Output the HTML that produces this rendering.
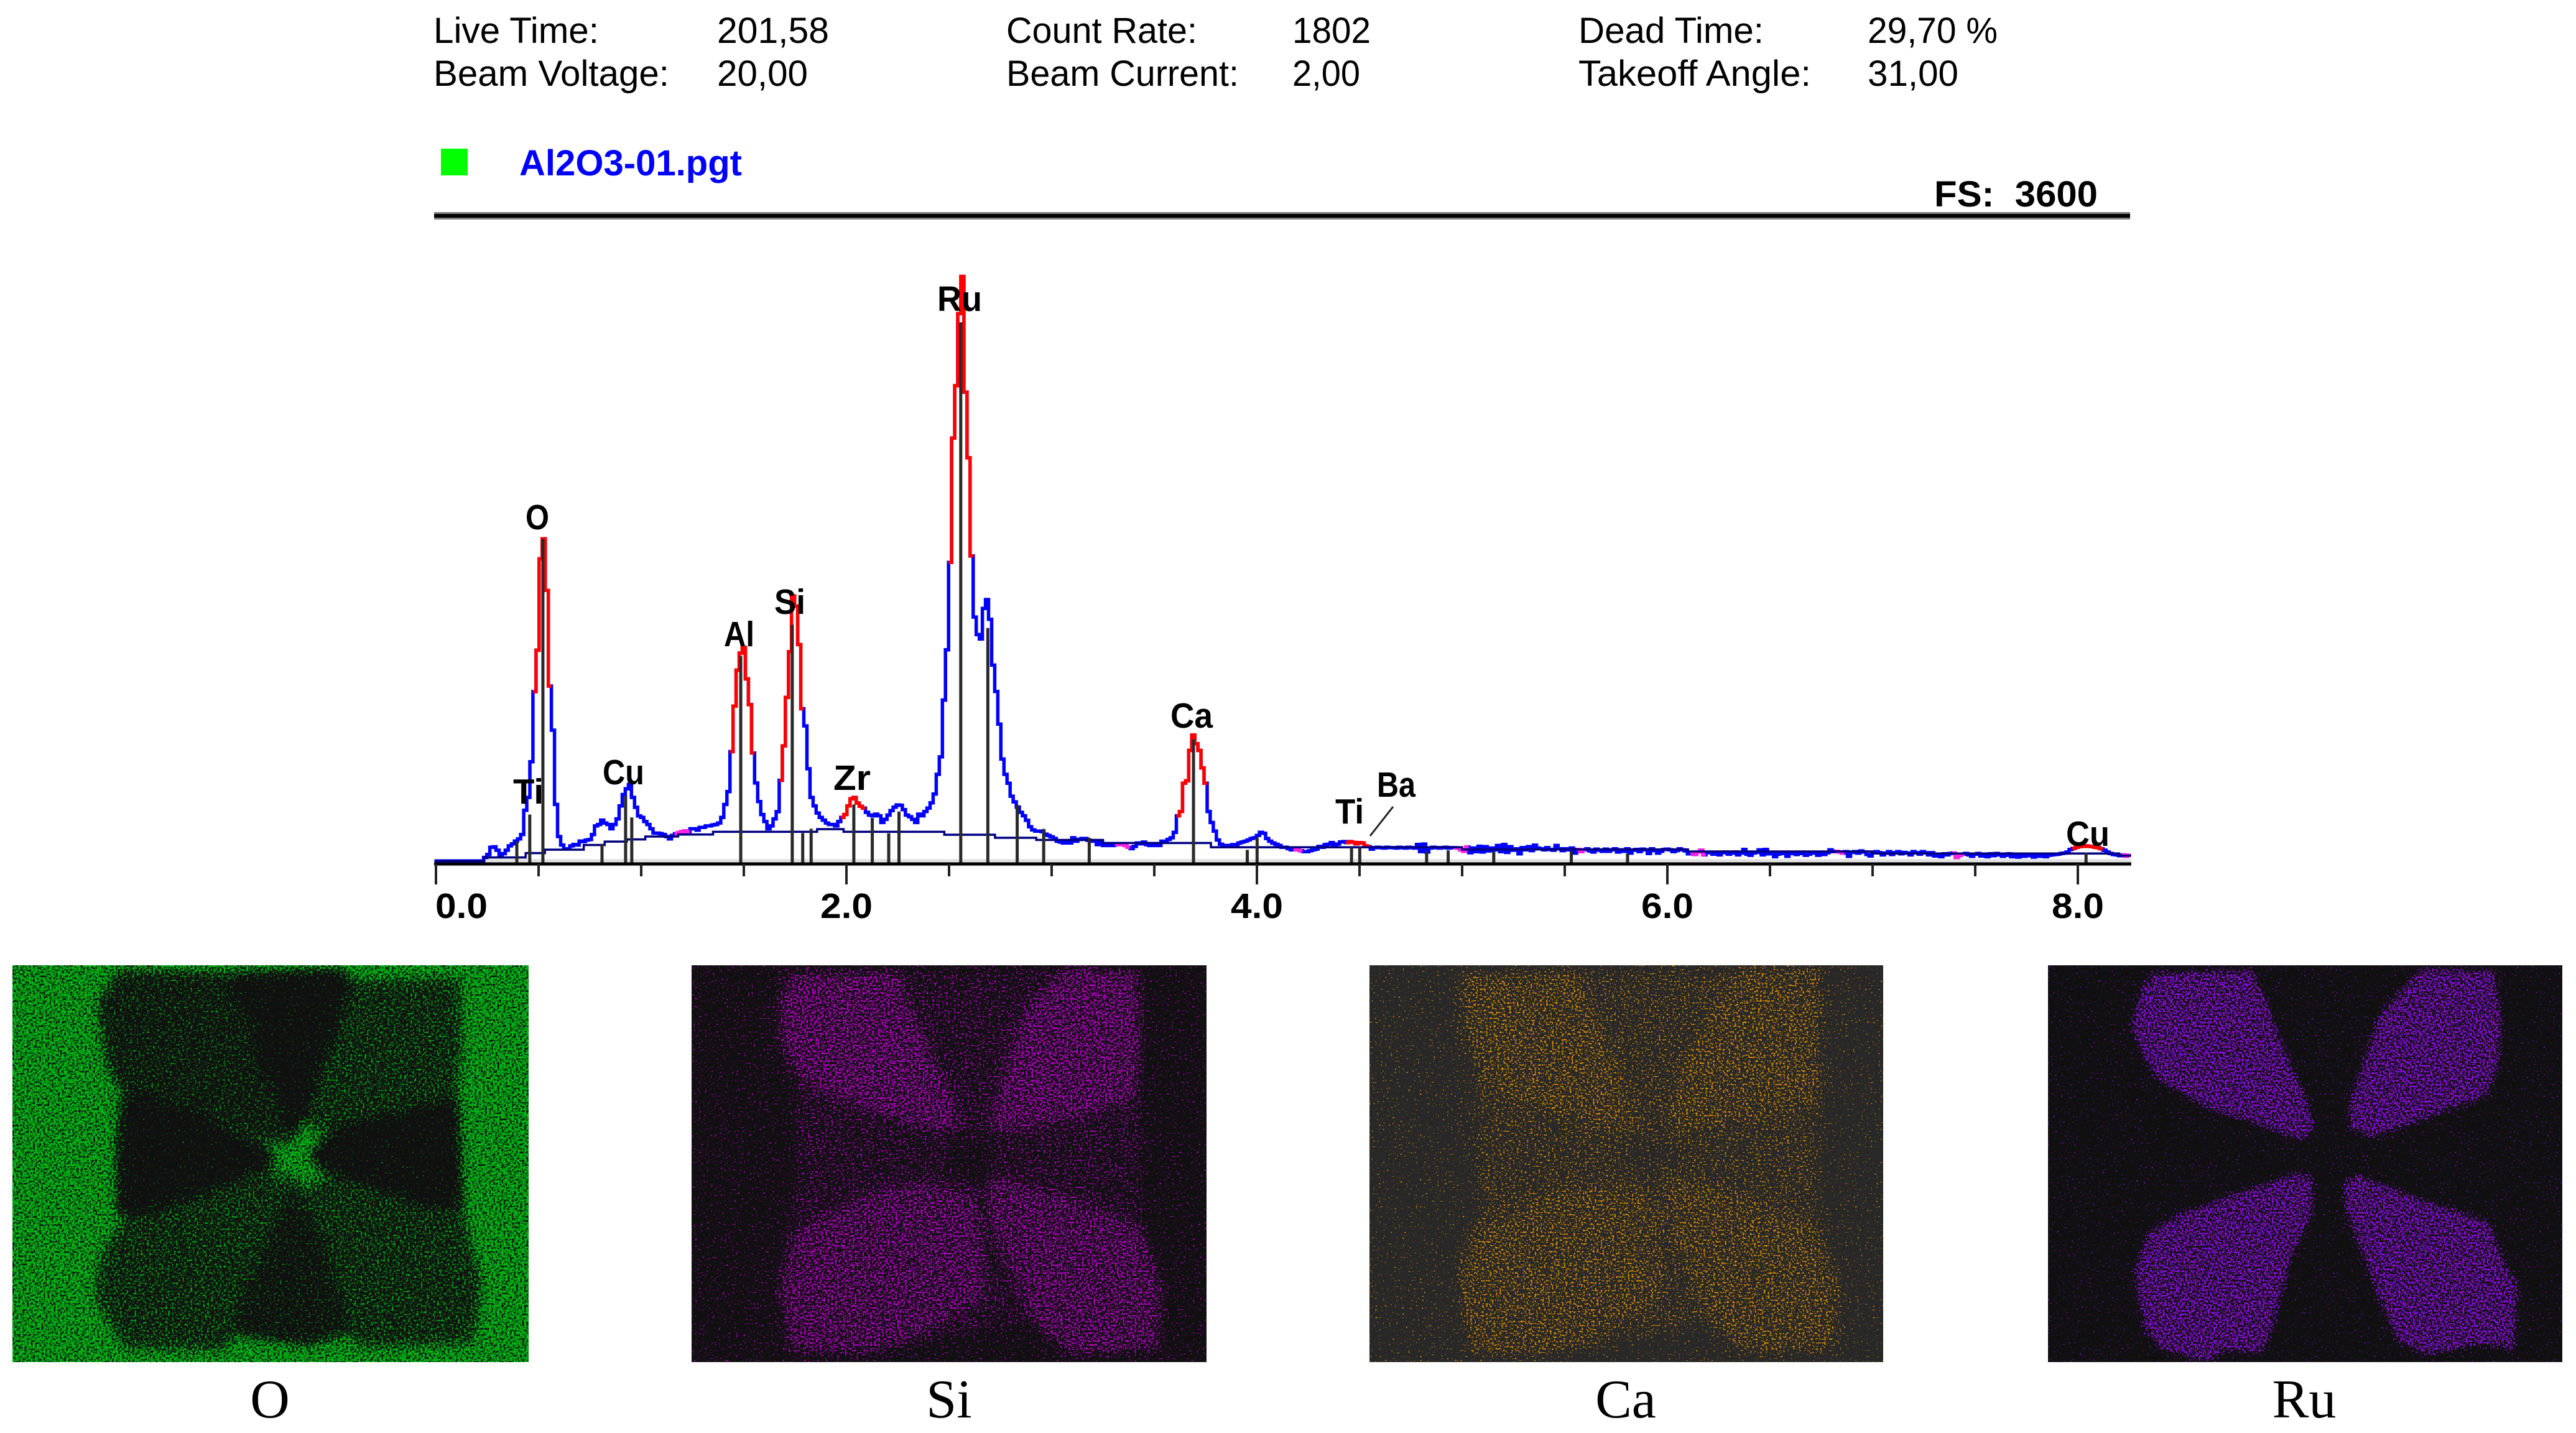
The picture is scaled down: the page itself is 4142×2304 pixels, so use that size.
<!DOCTYPE html>
<html lang="en">
<head>
<meta charset="utf-8">
<title>EDS spectrum and element maps</title>
<style>
html,body{margin:0;padding:0;background:#fff;width:4142px;height:2304px;overflow:hidden}
svg{display:block}
.hd{font-family:"Liberation Sans",sans-serif;font-size:58px;fill:#000}
.pk{font-family:"Liberation Sans",sans-serif;font-size:57px;font-weight:700;fill:#000}
.ax{font-family:"Liberation Sans",sans-serif;font-size:57px;font-weight:700;fill:#000}
.cap{font-family:"Liberation Serif",serif;font-size:88px;fill:#000;text-anchor:middle}
</style>
</head>
<body>
<svg id="root" xmlns="http://www.w3.org/2000/svg" width="4142" height="2304" viewBox="0 0 4142 2304">
<defs>
<clipPath id="clip-o"><rect width="830" height="638"/></clipPath>
<clipPath id="clip-si"><rect width="828" height="638"/></clipPath>
<clipPath id="clip-ca"><rect width="826" height="638"/></clipPath>
<clipPath id="clip-ru"><rect width="827" height="638"/></clipPath>
<filter id="noise-o" filterUnits="userSpaceOnUse" x="-40" y="-40" width="910" height="718" color-interpolation-filters="sRGB">
<feColorMatrix in="SourceGraphic" type="matrix" values="0 0 0 0 0 0 0 0 0 0 0 0 0 0 0 1 0 0 0 0" result="d"/>
<feGaussianBlur in="d" stdDeviation="9" result="db"/>
<feTurbulence type="fractalNoise" baseFrequency=".3" numOctaves="2" seed="4" result="t"/>
<feColorMatrix in="t" type="matrix" values="0 0 0 0 0 0 0 0 0 0 0 0 0 0 0 1 0 0 0 0" result="n"/>
<feComposite in="n" in2="db" operator="arithmetic" k1="0" k2="1" k3=".5" k4="-.72" result="s"/>
<feComponentTransfer in="s" result="m"><feFuncA type="linear" slope="4" intercept="0"/></feComponentTransfer>
<feFlood flood-color="#00b814" result="c"/>
<feComposite in="c" in2="m" operator="in"/>
</filter>
<filter id="noise-si" filterUnits="userSpaceOnUse" x="-40" y="-40" width="910" height="718" color-interpolation-filters="sRGB">
<feColorMatrix in="SourceGraphic" type="matrix" values="0 0 0 0 0 0 0 0 0 0 0 0 0 0 0 1 0 0 0 0" result="d"/>
<feGaussianBlur in="d" stdDeviation="8" result="db"/>
<feTurbulence type="fractalNoise" baseFrequency=".32" numOctaves="2" seed="11" result="t"/>
<feColorMatrix in="t" type="matrix" values="0 0 0 0 0 0 0 0 0 0 0 0 0 0 0 1 0 0 0 0" result="n"/>
<feComposite in="n" in2="db" operator="arithmetic" k1="0" k2="1" k3=".5" k4="-.72" result="s"/>
<feComponentTransfer in="s" result="m"><feFuncA type="linear" slope="10" intercept="0"/></feComponentTransfer>
<feFlood flood-color="#ac00bc" result="c"/>
<feComposite in="c" in2="m" operator="in"/>
</filter>
<filter id="noise-ca" filterUnits="userSpaceOnUse" x="-40" y="-40" width="910" height="718" color-interpolation-filters="sRGB">
<feColorMatrix in="SourceGraphic" type="matrix" values="0 0 0 0 0 0 0 0 0 0 0 0 0 0 0 1 0 0 0 0" result="d"/>
<feGaussianBlur in="d" stdDeviation="8" result="db"/>
<feTurbulence type="fractalNoise" baseFrequency=".32" numOctaves="2" seed="23" result="t"/>
<feColorMatrix in="t" type="matrix" values="0 0 0 0 0 0 0 0 0 0 0 0 0 0 0 1 0 0 0 0" result="n"/>
<feComposite in="n" in2="db" operator="arithmetic" k1="0" k2="1" k3=".5" k4="-.72" result="s"/>
<feComponentTransfer in="s" result="m"><feFuncA type="linear" slope="14" intercept="0"/></feComponentTransfer>
<feFlood flood-color="#d88a00" result="c"/>
<feComposite in="c" in2="m" operator="in"/>
</filter>
<filter id="noise-ru" filterUnits="userSpaceOnUse" x="-40" y="-40" width="910" height="718" color-interpolation-filters="sRGB">
<feColorMatrix in="SourceGraphic" type="matrix" values="0 0 0 0 0 0 0 0 0 0 0 0 0 0 0 1 0 0 0 0" result="d"/>
<feGaussianBlur in="d" stdDeviation="5" result="db"/>
<feTurbulence type="fractalNoise" baseFrequency=".33" numOctaves="2" seed="37" result="t"/>
<feColorMatrix in="t" type="matrix" values="0 0 0 0 0 0 0 0 0 0 0 0 0 0 0 1 0 0 0 0" result="n"/>
<feComposite in="n" in2="db" operator="arithmetic" k1="0" k2="1" k3=".5" k4="-.72" result="s"/>
<feComponentTransfer in="s" result="m"><feFuncA type="linear" slope="8" intercept="0"/></feComponentTransfer>
<feFlood flood-color="#8a0cdc" result="c"/>
<feComposite in="c" in2="m" operator="in"/>
</filter>
</defs>

<g class="hd">
<text x="697" y="69" textLength="266" lengthAdjust="spacingAndGlyphs">Live Time:</text>
<text x="1153" y="69" textLength="180" lengthAdjust="spacingAndGlyphs">201,58</text>
<text x="1618" y="69" textLength="307" lengthAdjust="spacingAndGlyphs">Count Rate:</text>
<text x="2078" y="69" textLength="126" lengthAdjust="spacingAndGlyphs">1802</text>
<text x="2538" y="69" textLength="298" lengthAdjust="spacingAndGlyphs">Dead Time:</text>
<text x="3003" y="69" textLength="209" lengthAdjust="spacingAndGlyphs">29,70 %</text>
<text x="697" y="138" textLength="379" lengthAdjust="spacingAndGlyphs">Beam Voltage:</text>
<text x="1153" y="138" textLength="146" lengthAdjust="spacingAndGlyphs">20,00</text>
<text x="1618" y="138" textLength="374" lengthAdjust="spacingAndGlyphs">Beam Current:</text>
<text x="2078" y="138" textLength="109" lengthAdjust="spacingAndGlyphs">2,00</text>
<text x="2538" y="138" textLength="374" lengthAdjust="spacingAndGlyphs">Takeoff Angle:</text>
<text x="3003" y="138" textLength="146" lengthAdjust="spacingAndGlyphs">31,00</text>
</g>

<rect x="709" y="239" width="43" height="43" fill="#00ff00"/>
<text x="835" y="282" font-family="'Liberation Sans',sans-serif" font-size="58" font-weight="700" fill="#0000ff" textLength="358" lengthAdjust="spacingAndGlyphs">Al2O3-01.pgt</text>
<text x="3110" y="332" font-family="'Liberation Sans',sans-serif" font-size="58" font-weight="700" fill="#000" xml:space="preserve" textLength="263" lengthAdjust="spacingAndGlyphs">FS:  3600</text>
<rect x="698" y="341" width="2727" height="12" fill="#808080"/>
<rect x="698" y="344" width="2727" height="6" fill="#000"/>

<g id="chart"></g>

<g class="pk">
<text x="845" y="851" textLength="38" lengthAdjust="spacingAndGlyphs">O</text>
<text x="825" y="1292" textLength="49" lengthAdjust="spacingAndGlyphs">Ti</text>
<text x="969" y="1261" textLength="67" lengthAdjust="spacingAndGlyphs">Cu</text>
<text x="1164" y="1039" textLength="49" lengthAdjust="spacingAndGlyphs">Al</text>
<text x="1245" y="987" textLength="50" lengthAdjust="spacingAndGlyphs">Si</text>
<text x="1340" y="1270" textLength="60" lengthAdjust="spacingAndGlyphs">Zr</text>
<text x="1507" y="500" textLength="72" lengthAdjust="spacingAndGlyphs">Ru</text>
<text x="1882" y="1170" textLength="68" lengthAdjust="spacingAndGlyphs">Ca</text>
<text x="2147" y="1324" textLength="46" lengthAdjust="spacingAndGlyphs">Ti</text>
<text x="2214" y="1281" textLength="62" lengthAdjust="spacingAndGlyphs">Ba</text>
<text x="3322" y="1360" textLength="70" lengthAdjust="spacingAndGlyphs">Cu</text>
</g>
<line x1="2240" y1="1297" x2="2203" y2="1344" stroke="#222" stroke-width="3"/>

<g transform="translate(20,1552)">
<rect width="830" height="638" fill="#101010"/>
<g clip-path="url(#clip-o)"><g filter="url(#noise-o)">
<rect x="-40" y="-40" width="910" height="718" fill="rgb(205,205,205)"/>
<g transform="scale(.5294,.4098)">
<polygon fill="rgb(112,112,112)" points="320,25 650,30 1000,25 1030,60 1360,50 1365,330 1350,520 1365,950 1425,1250 1400,1480 1060,1500 1020,1450 900,1490 680,1450 640,1510 340,1500 250,1300 270,1130 340,1000 320,970 335,500 290,400 260,150"/>
<polygon fill="rgb(85,85,85)" points="320,25 650,30 720,180 760,400 800,480 850,680 600,610 410,510 335,500 290,400 260,150"/>
<polygon fill="rgb(30,30,30)" points="680,40 1000,20 1020,90 990,220 950,330 920,450 890,590 850,680 800,480 760,400 720,180 660,90"/>
<polygon fill="rgb(30,30,30)" points="335,520 410,510 600,610 790,750 780,780 600,880 480,930 370,980 320,960 320,700"/>
<polygon fill="rgb(30,30,30)" points="1350,520 1365,950 1250,940 1080,860 910,780 905,740 1000,630 1150,590"/>
<polygon fill="rgb(65,65,65)" points="850,880 890,960 950,1100 980,1250 1010,1350 1010,1430 900,1490 700,1450 680,1400 720,1250 770,1100 820,950"/>
<polygon fill="rgb(205,205,205)" points="885,585 900,640 960,650 905,750 960,830 885,880 850,820 790,840 800,770 770,700 850,690"/>
</g>
</g></g>
</g>

<g transform="translate(1112,1552)">
<rect width="828" height="638" fill="#101010"/>
<g clip-path="url(#clip-si)"><g filter="url(#noise-si)">
<rect x="-40" y="-40" width="910" height="718" fill="rgb(30,30,30)"/>
<g transform="scale(.5294,.4098)">
<polygon fill="rgb(68,68,68)" points="265,20 1370,20 1370,1000 1430,1250 1420,1510 1150,1530 1030,1400 540,1530 300,1520 260,1250 300,1020 320,500 265,300"/>
<polygon fill="rgb(118,118,118)" points="320,25 630,20 660,150 750,400 800,540 820,640 720,650 580,590 340,470 270,320 260,130"/>
<polygon fill="rgb(118,118,118)" points="1130,5 1350,20 1370,300 1350,520 1200,590 920,660 905,600 950,400 1000,220 1060,100"/>
<polygon fill="rgb(112,112,112)" points="700,850 860,900 880,1000 900,1300 700,1450 540,1530 300,1520 260,1250 300,1060 400,980 560,880"/>
<polygon fill="rgb(112,112,112)" points="900,830 1100,880 1370,1030 1430,1250 1420,1510 1150,1530 1050,1430 1000,1300 900,1000"/>
<polygon fill="rgb(40,40,40)" points="770,680 910,670 920,780 870,870 790,800"/>
</g>
</g></g>
</g>

<g transform="translate(2202,1552)">
<rect width="826" height="638" fill="#282828"/>
<g clip-path="url(#clip-ca)"><g filter="url(#noise-ca)">
<rect x="-40" y="-40" width="910" height="718" fill="rgb(8,8,8)"/>
<g transform="scale(.5294,.4098)">
<polygon fill="rgb(46,46,46)" points="265,30 1370,10 1380,400 1360,1000 1430,1250 1420,1510 1150,1530 1030,1400 540,1530 300,1530 260,1200 320,1000 320,500 260,200"/>
<polygon fill="rgb(72,72,72)" points="265,30 630,20 760,400 820,640 720,650 580,590 340,470"/>
<polygon fill="rgb(72,72,72)" points="1130,5 1370,10 1370,520 1200,590 920,660 905,600 950,400 1060,100"/>
<polygon fill="rgb(70,70,70)" points="700,850 860,900 880,1000 900,1300 700,1450 540,1530 300,1520 260,1250 300,1060 400,980 560,880"/>
<polygon fill="rgb(70,70,70)" points="900,830 1100,880 1370,1030 1430,1250 1420,1510 1150,1530 1050,1430 1000,1300 900,1000"/>
<polygon fill="rgb(20,20,20)" points="790,700 900,680 910,770 870,820 800,790"/>
</g>
</g></g>
</g>

<g transform="translate(3293,1552)">
<rect width="827" height="638" fill="#101010"/>
<g clip-path="url(#clip-ru)"><g filter="url(#noise-ru)">
<rect x="-40" y="-40" width="910" height="718" fill="rgb(18,18,18)"/>
<g transform="scale(.5294,.4098)">
<polygon fill="rgb(132,132,132)" points="320,25 620,15 660,120 720,330 780,500 815,640 770,690 660,640 480,560 330,450 280,340 250,230 280,90"/>
<polygon fill="rgb(132,132,132)" points="1130,10 1360,20 1380,230 1370,400 1330,520 1180,590 990,680 910,640 910,560 950,400 1000,200 1060,110"/>
<polygon fill="rgb(132,132,132)" points="760,810 810,840 805,980 740,1150 690,1400 650,1530 540,1510 490,1560 340,1510 290,1430 260,1200 300,1050 400,970 600,880"/>
<polygon fill="rgb(132,132,132)" points="940,815 1100,900 1340,1000 1400,1190 1430,1250 1420,1510 1320,1490 1160,1530 1060,1480 1000,1300 940,1090 900,950 895,850"/>
</g>
</g></g>
</g>

<text class="cap" x="434" y="2279">O</text>
<text class="cap" x="1526" y="2279">Si</text>
<text class="cap" x="2614" y="2279">Ca</text>
<text class="cap" x="3705" y="2279">Ru</text>
</svg>

<script>
// Spectrum counts per channel (channel width 0.015 keV).
const counts = [
16,16,16,16,16,16,16,16,16,16,16,16,16,16,16,16,
36,52,92,95,76,48,57,76,100,111,
127,139,163,298,369,567,956,1186,1693,1804,
1518,987,742,330,152,105,84,84,100,108,
105,127,124,132,135,163,211,219,243,227,
219,195,219,250,322,385,417,441,369,314,
266,258,235,219,195,171,171,168,163,152,
139,158,168,174,179,184,179,195,195,187,
203,203,211,211,216,219,227,258,330,401,
623,876,1075,1170,1201,1027,884,615,449,346,
274,235,195,211,250,290,464,655,924,1178,
1487,1431,1217,861,766,528,369,322,282,258,
243,227,219,219,211,235,258,274,322,361,
369,338,320,310,286,271,267,276,267,230,
247,271,296,315,327,325,301,271,262,247,
230,276,267,291,310,339,388,497,594,909,
1188,1673,2363,2654,3054,3260,2618,2254,1709,1370,
1273,1248,1418,1467,1357,1103,957,776,582,497,
448,376,344,315,286,267,242,206,189,182,
182,179,165,158,150,141,126,121,116,126,
116,145,126,136,141,141,131,126,126,107,
121,102,102,102,102,107,107,107,102,92,
85,97,116,112,121,107,102,102,102,102,
126,126,136,145,175,267,291,448,461,630,
715,667,630,533,448,291,230,182,133,109,
102,102,102,107,102,116,121,126,133,141,
145,158,175,170,141,126,116,109,102,92,
92,85,78,78,78,73,68,68,73,78,
82,97,92,107,109,
118,104,110,122,124,118,124,120,112,118,
116,100,96,82,90,92,90,88,92,90,
90,88,92,90,88,92,90,88,108,68,
110,66,88,92,90,88,90,92,88,90,
90,88,78,70,94,62,88,68,98,66,
96,72,88,78,102,68,108,64,96,76,
84,56,90,78,96,74,104,88,84,78,
90,80,76,102,84,74,84,78,88,60,
80,68,78,84,72,66,82,76,70,82,
70,78,84,66,78,70,84,60,76,80,
68,82,78,58,84,74,60,70,80,82,
78,68,74,84,78,72,56,60,52,66,
76,50,62,64,54,60,50,62,66,54,
60,66,50,60,80,54,48,60,64,78,
50,80,56,62,40,54,62,58,42,60,
58,52,62,58,48,54,60,64,48,62,
52,62,78,68,70,66,60,68,42,64,
68,60,72,66,52,44,64,68,62,50,
60,68,52,62,68,56,64,60,50,68,
62,54,68,62,50,62,44,52,40,56,
50,58,60,36,46,54,58,50,42,54,
58,44,52,40,56,46,58,50,42,48,
56,40,50,38,54,42,46,52,38,50,
42,54,40,48,50,52,54,58,60,66,
80,86,92,96,98,100,98,96,92,90,
84,76,66,58,52,50,46,50,42,48
];
const channelWidthKeV = 0.015;

// Stepped background fit: keV where each step starts, counts at that step.
const backgroundEnergies = [0,0.234,0.437,0.531,0.72,0.822,0.93,1.02,1.18,1.35,1.857,1.986,2.477,2.724,2.925,3.25,3.776,5.0,6.1,7.0,8.2];
const backgroundCounts = [16,36,60,79,105,124,136,152,163,178,193,178,162,145,133,116,92,80,69,58,46];

// Identified regions of interest, keV.
const redRoiStarts = [0.485,1.44,1.68,1.985,2.50,3.62,4.44,7.98];
const redRoiEnds = [0.558,1.54,1.79,2.09,2.61,3.75,4.54,8.12];
const magentaRoiStarts = [1.17,3.31,4.18,4.97,5.56,6.12,6.82,7.40,8.22];
const magentaRoiEnds = [1.23,3.37,4.22,5.02,5.60,6.18,6.86,7.44,8.26];

// KLM line markers: energy (keV) and height (counts).
const markerEnergies = [0.394,0.457,0.521,0.809,0.924,0.954,1.485,1.736,1.787,1.828,2.036,2.126,2.206,2.256,2.557,2.689,2.832,2.961,3.183,3.691,3.953,4.001,4.461,4.501,4.827,4.932,5.154,5.532,5.806,8.04];
const markerCounts = [124,274,1804,111,377,258,1154,1328,171,195,330,255,170,291,3006,1309,327,194,145,691,78,145,92,92,69,75,69,69,58,63];

// Axis ticks.
const minorTickEnergies = [0.5,1,1.5,2.5,3,3.5,4.5,5,5.5,6.5,7,7.5];
const majorTickEnergies = [0,2,4,6,8];
const majorTickLabels = ['0.0','2.0','4.0','6.0','8.0'];
const fullScaleCounts = 3600;
const axisMaxKeV = 8.26;

const X0 = 701, PX_PER_KEV = 330, Y0 = 1389, Y_TOP = 346;
function xScale(e){ return X0 + e * PX_PER_KEV; }
function yScale(c){ return Y0 - c * (Y0 - Y_TOP) / fullScaleCounts; }

const NS = 'http://www.w3.org/2000/svg';
const chart = document.getElementById('chart');

function stepPath(from, to){
  let d = '';
  for(let i = from; i <= to; i++){
    const e = i * channelWidthKeV;
    const x0 = xScale(e - channelWidthKeV / 2);
    const x1 = xScale(e + channelWidthKeV / 2);
    const y = yScale(counts[i]);
    d += (d ? 'L' : 'M') + x0.toFixed(1) + ' ' + y.toFixed(1) + 'L' + x1.toFixed(1) + ' ' + y.toFixed(1);
  }
  return d;
}
function channelIn(keV){ return Math.max(0, Math.min(counts.length - 1, Math.round(keV / channelWidthKeV))); }

// Axis halo
const halo = document.createElementNS(NS, 'rect');


halo.setAttribute('x', xScale(0) - 3);
halo.setAttribute('y', Y0 - 8);
halo.setAttribute('width', xScale(axisMaxKeV) - xScale(0) + 3);
halo.setAttribute('height', 12);
halo.setAttribute('fill', '#e4e4e4');
chart.appendChild(halo);

// Main spectrum
const trace = document.createElementNS(NS, 'path');


trace.setAttribute('d', stepPath(0, counts.length - 1));
trace.setAttribute('fill', 'none');
trace.setAttribute('stroke', '#0000ff');
trace.setAttribute('stroke-width', '5.5');
chart.appendChild(trace);

// Region-of-interest overlays
redRoiStarts.forEach(function(start, k){
  const roi = document.createElementNS(NS, 'path');
  
  
  roi.setAttribute('d', stepPath(channelIn(start), channelIn(redRoiEnds[k])));
  roi.setAttribute('fill', 'none');
  roi.setAttribute('stroke', '#ff0000');
  roi.setAttribute('stroke-width', '5.5');
  chart.appendChild(roi);
});
magentaRoiStarts.forEach(function(start, k){
  const roi = document.createElementNS(NS, 'path');
  
  
  roi.setAttribute('d', stepPath(channelIn(start), channelIn(magentaRoiEnds[k])));
  roi.setAttribute('fill', 'none');
  roi.setAttribute('stroke', '#ff20e0');
  roi.setAttribute('stroke-width', '5.5');
  chart.appendChild(roi);
});

// Background
let bgD = '';
backgroundEnergies.forEach(function(e, k){
  const next = k + 1 < backgroundEnergies.length ? backgroundEnergies[k + 1] : axisMaxKeV;
  const y = yScale(backgroundCounts[k]).toFixed(1);
  bgD += (bgD ? 'L' : 'M') + xScale(e).toFixed(1) + ' ' + y + 'L' + xScale(next).toFixed(1) + ' ' + y;
});
const bgLine = document.createElementNS(NS, 'path');


bgLine.setAttribute('d', bgD);
bgLine.setAttribute('fill', 'none');
bgLine.setAttribute('stroke', '#000080');
bgLine.setAttribute('stroke-width', '3.5');
chart.appendChild(bgLine);

// Line markers
markerEnergies.forEach(function(e, k){
  const m = document.createElementNS(NS, 'line');
  
  
  m.setAttribute('x1', xScale(e));
  m.setAttribute('x2', xScale(e));
  m.setAttribute('y1', Y0);
  m.setAttribute('y2', yScale(markerCounts[k]));
  m.setAttribute('stroke', '#2a2a2a');
  m.setAttribute('stroke-width', '5');
  chart.appendChild(m);
});

// Axis line
const axisLine = document.createElementNS(NS, 'line');


axisLine.setAttribute('x1', xScale(0) - 3);
axisLine.setAttribute('x2', xScale(axisMaxKeV));
axisLine.setAttribute('y1', Y0);
axisLine.setAttribute('y2', Y0);
axisLine.setAttribute('stroke', '#000');
axisLine.setAttribute('stroke-width', '5');
chart.appendChild(axisLine);

// Ticks
minorTickEnergies.forEach(function(e){
  const t = document.createElementNS(NS, 'line');
  
  
  t.setAttribute('x1', xScale(e));
  t.setAttribute('x2', xScale(e));
  t.setAttribute('y1', Y0);
  t.setAttribute('y2', Y0 + 20);
  t.setAttribute('stroke', '#222');
  t.setAttribute('stroke-width', '4');
  chart.appendChild(t);
});
majorTickEnergies.forEach(function(e, k){
  const t = document.createElementNS(NS, 'line');
  
  
  t.setAttribute('x1', xScale(e));
  t.setAttribute('x2', xScale(e));
  t.setAttribute('y1', Y0);
  t.setAttribute('y2', Y0 + 33);
  t.setAttribute('stroke', '#222');
  t.setAttribute('stroke-width', '4');
  chart.appendChild(t);
  const label = document.createElementNS(NS, 'text');
  
  
  label.setAttribute('class', 'ax');
  label.setAttribute('y', 1476);
  label.setAttribute('x', k === 0 ? xScale(e) + 41 : xScale(e));
  label.setAttribute('text-anchor', 'middle');
  label.setAttribute('textLength', '84');
  label.setAttribute('lengthAdjust', 'spacingAndGlyphs');
  label.textContent = majorTickLabels[k];
  chart.appendChild(label);
});
</script>
</body>
</html>
